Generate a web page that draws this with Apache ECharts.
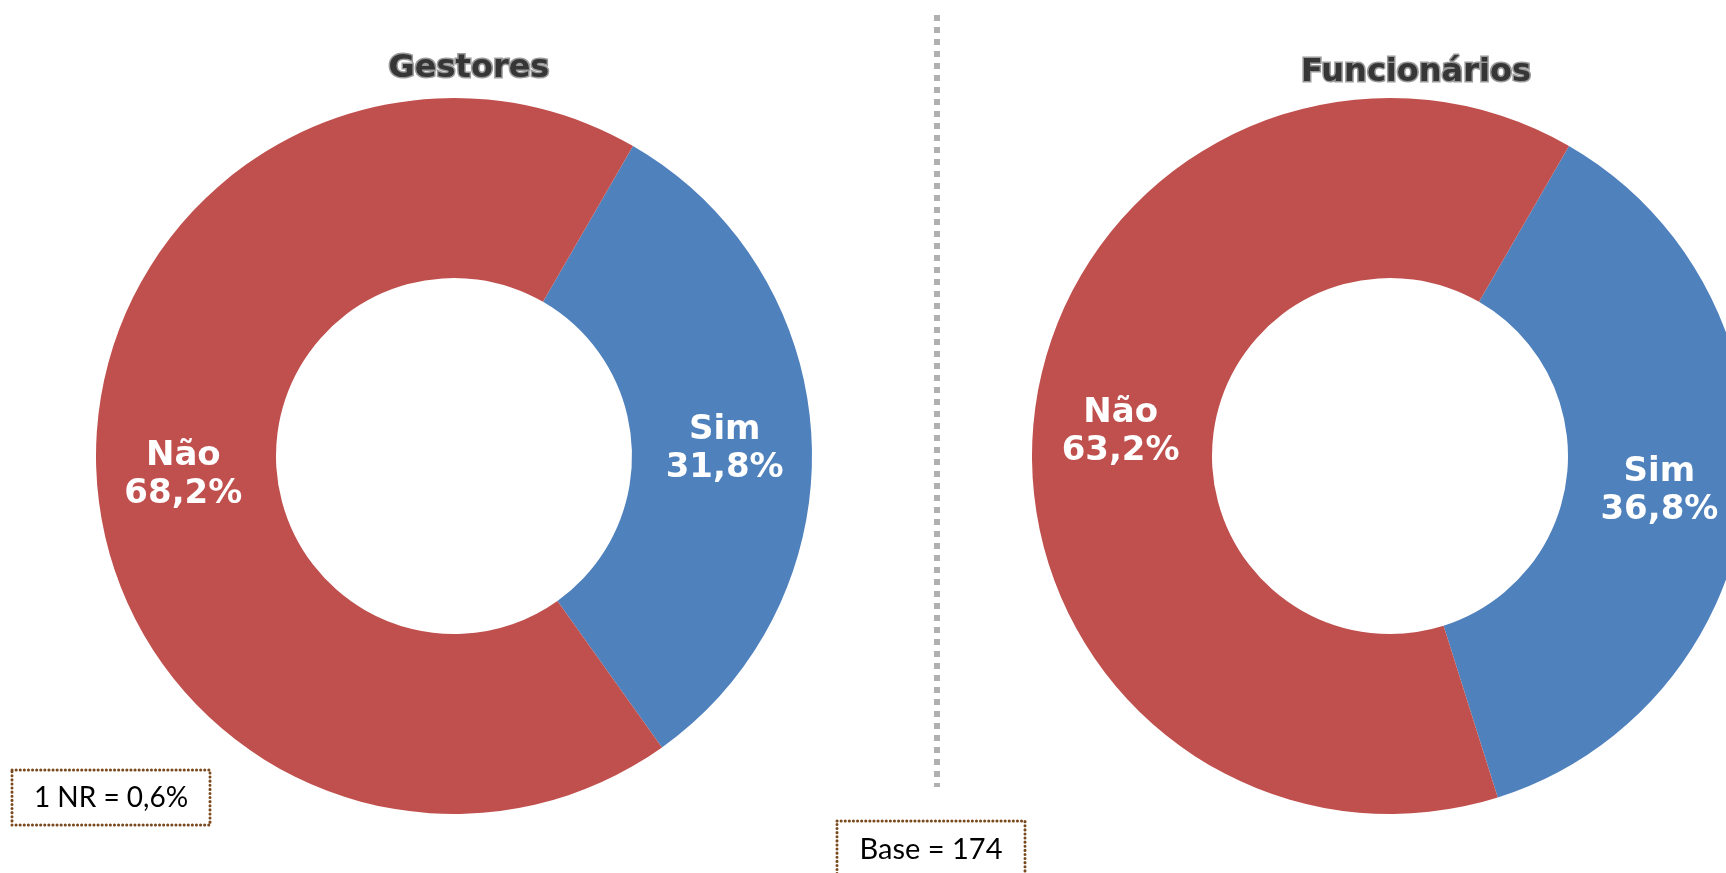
<!DOCTYPE html>
<html>
<head>
<meta charset="utf-8">
<script src="https://cdn.jsdelivr.net/npm/echarts@6/dist/echarts.min.js"></script>
<style>
html,body{margin:0;padding:0;background:#fff;}
#chart{width:1726px;height:873px;}
</style>
</head>
<body>
<div id="chart"></div>
<script>
var categories = ['Sim', 'Não'];
var gestoresValues = [31.8, 68.2];
var funcionariosValues = [36.8, 63.2];
var titles = ['Gestores', 'Funcionários'];
var noteNR = '1 NR = 0,6%';
var noteBase = 'Base = 174';
var colors = ['#4F81BD', '#C0504D'];

function toData(vals) {
  return categories.map(function (c, i) {
    return { name: c, value: vals[i], itemStyle: { color: colors[i] } };
  });
}
function fmt(p) {
  return p.name + '\n' + p.value.toFixed(1).replace('.', ',') + '%';
}
function pie(center, vals) {
  return {
    type: 'pie',
    center: center,
    radius: [178, 358],
    startAngle: 60,
    clockwise: true,
    avoidLabelOverlap: false,
    animation: false,
    silent: true,
    data: toData(vals),
    itemStyle: { borderWidth: 0 },
    label: {
      show: true,
      position: 'inside',
      formatter: fmt,
      color: '#fff',
      fontFamily: 'DejaVu Sans',
      fontWeight: 'bold',
      fontSize: 34,
      lineHeight: 38,
      offset: [0, 6],
      align: 'center'
    },
    labelLine: { show: false },
    emphasis: { disabled: true }
  };
}

var chart = echarts.init(document.getElementById('chart'), null, { renderer: 'canvas' });
var titleStyle = {
  fontFamily: 'DejaVu Sans',
  fontWeight: 'bold',
  fontSize: 32,
  fill: '#363636',
  stroke: '#9a9a9a',
  lineWidth: 3,
  align: 'center',
  verticalAlign: 'middle'
};
chart.setOption({
  animation: false,
  series: [pie([454, 456], gestoresValues), pie([1390, 456], funcionariosValues)],
  graphic: [
    { type: 'text', x: 469, y: 69, style: Object.assign({}, titleStyle, { text: titles[0] }), z: 10 },
    { type: 'text', x: 1416, y: 73, style: Object.assign({}, titleStyle, { text: titles[1] }), z: 10 },
    { type: 'line', shape: { x1: 937, y1: 15, x2: 937, y2: 787 },
      style: { stroke: '#b0b0b0', lineWidth: 6, lineDash: [6, 6] }, z: 5 },
    { type: 'rect', shape: { x: 12, y: 770, width: 198, height: 55 },
      style: { fill: '#fff', stroke: '#7a4a1e', lineWidth: 3, lineDash: [0.1, 4], lineCap: 'round' }, z: 20 },
    { type: 'text', x: 111, y: 798,
      style: { text: noteNR, fontFamily: 'Lato', fontSize: 28, fill: '#000', align: 'center', verticalAlign: 'middle' }, z: 21 },
    { type: 'rect', shape: { x: 837, y: 821, width: 188, height: 70 },
      style: { fill: '#fff', stroke: '#7a4a1e', lineWidth: 3, lineDash: [0.1, 4], lineCap: 'round' }, z: 20 },
    { type: 'text', x: 931, y: 850,
      style: { text: noteBase, fontFamily: 'Lato', fontSize: 29, fill: '#000', align: 'center', verticalAlign: 'middle' }, z: 21 }
  ]
});
</script>
</body>
</html>
